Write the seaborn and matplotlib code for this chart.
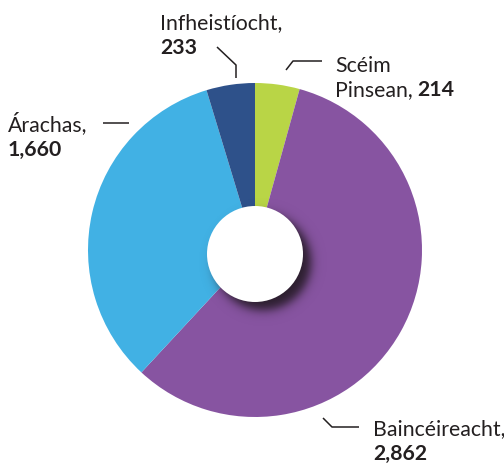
import matplotlib
matplotlib.use("Agg")
import matplotlib.pyplot as plt
import seaborn as sns
import numpy as np
from matplotlib.patches import Circle

# data (clockwise from the top)
labels = ["Sc\u00e9im\nPinsean,", "Bainc\u00e9ireacht,", "\u00c1rachas,", "Infheist\u00edocht,"]
values = [214, 2862, 1660, 233]
colors = ["#b9d546", "#8754a1", "#41b1e4", "#2e518a"]

W, H = 504, 464
TXT = "#231f20"

sns.set_theme(style="white")
plt.rcParams['font.family'] = ['Lato', 'DejaVu Sans']

fig = plt.figure(figsize=(W / 100, H / 100), dpi=100)
ax = fig.add_axes([0, 0, 1, 1])


def py(y):
    # pixel y (top-down) -> data y
    return H - y


cx, cy, r = 255, 251, 167
ax.pie(values, colors=colors, startangle=90, counterclock=False,
       center=(cx, py(cy)), radius=r, frame=True,
       wedgeprops=dict(linewidth=0))

# blurred drop shadow behind the hole
hx, hy, hr = cx, cy + 4, 48
sx, sy = hx + 8, hy + 8
gx, gy = np.meshgrid(np.arange(0, W) + 0.5, np.arange(0, H) + 0.5)
d = np.hypot(gx - sx, gy - sy)
alpha = 0.92 * 0.5 * (1 - np.tanh((d - hr) / 6.0))
img = np.zeros((H, W, 4))
img[..., 0], img[..., 1], img[..., 2] = 0.14, 0.10, 0.14
img[..., 3] = alpha
ax.imshow(img, extent=(0, W, 0, H), origin="upper", zorder=3,
          interpolation="bilinear")
ax.add_patch(Circle((hx, py(hy)), hr, color="white", lw=0, zorder=4))

# leader lines (layout)
leaders = [
    [(286, 71), (293, 62), (322, 62)],
    [(323, 419), (332, 428), (359, 428)],
    [(103, 124), (129, 124)],
    [(217, 48), (236, 66), (236, 79)],
]
for pts in leaders:
    ax.plot([p[0] for p in pts], [py(p[1]) for p in pts], color=TXT, lw=1.1,
            solid_capstyle="butt", zorder=5)

# label positions: (x, baseline of last line)
label_pos = [(335, 96), (373, 435), (8, 131), (160, 29)]
fs = 15.3
lh = 24.5
for lab, v, (x, y) in zip(labels, values, label_pos):
    num = f"{v:,}"
    if "\n" in lab:
        first, second = lab.split("\n")
        ax.text(x, py(y - lh), first, fontsize=fs, color=TXT, va="baseline", ha="left")
        t = ax.text(x, py(y), second, fontsize=fs, color=TXT, va="baseline", ha="left")
        ax.annotate(num, xy=(1, 0), xycoords=t, xytext=(3.5, 0),
                    textcoords="offset points", fontsize=fs, color=TXT,
                    fontweight="bold", va="bottom", ha="left")
    else:
        ax.text(x, py(y), lab, fontsize=fs, color=TXT, va="baseline", ha="left")
        ax.text(x, py(y + lh), num, fontsize=fs, color=TXT, va="baseline",
                ha="left", fontweight="bold")

ax.set_xlim(0, W)
ax.set_ylim(0, H)
ax.set_aspect("equal")
ax.axis("off")

fig.savefig("out.png", dpi=100, facecolor="white")
